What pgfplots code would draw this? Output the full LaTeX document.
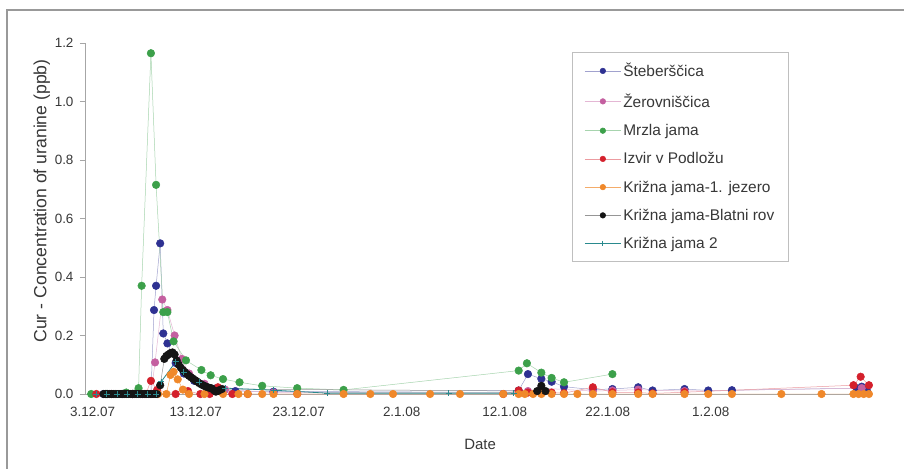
\documentclass[border=0pt]{standalone}
\usepackage{pgfplots}
\pgfplotsset{compat=1.18}
\usepackage{fontspec}
\setmainfont{Liberation Sans}
\definecolor{cblue}{HTML}{2E3192}
\definecolor{cpink}{HTML}{C45FA0}
\definecolor{cgreen}{HTML}{3CA04A}
\definecolor{cred}{HTML}{D4202C}
\definecolor{corange}{HTML}{F0882A}
\definecolor{cblack}{HTML}{151515}
\definecolor{cteal}{HTML}{2A8A8E}
\definecolor{txt}{HTML}{383838}
\begin{document}
\begin{tikzpicture}
\path[use as bounding box, fill=white] (0,0) rectangle (904bp,469bp);
\draw[gray!80, line width=1.2bp] (7bp,-5bp) -- (7bp,459bp) -- (910bp,459bp);
\begin{axis}[
  at={(85bp,75bp)}, anchor=south west,
  scale only axis, width=787bp, height=351bp,
  xmin=-0.6, xmax=75.8, ymin=0, ymax=1.2,
  axis x line=bottom, axis y line=left,
  axis line style={-, gray!70, line width=0.6bp},
  xtick={0,10,20,30,40,50,60},
  xticklabels={3.12.07,13.12.07,23.12.07,2.1.08,12.1.08,22.1.08,1.2.08},
  xtick style={draw=none},
  ytick={0,0.2,0.4,0.6,0.8,1.0,1.2},
  yticklabel style={/pgf/number format/.cd, fixed, fixed zerofill, precision=1, /tikz/.cd, xshift=-3bp},
  ytick style={gray!70, line width=0.6bp},
  tick align=outside, major tick length=5bp,
  /pgf/number format/assume math mode=true,
  ticklabel style={font=\fontsize{13.5}{15}\selectfont, text=txt},
  xticklabel style={xshift=1.5bp, yshift=-5bp},
  xlabel={Date}, ylabel={Cur - Concentration of uranine (ppb)},
  xlabel style={font=\fontsize{15}{17}\selectfont, text=txt, at={(axis description cs:0.502,-0.145)}, anchor=center},
  ylabel style={font=\fontsize{17.7}{20}\selectfont, text=txt, at={(axis description cs:-0.055,0.55)}, anchor=center},
  clip=false,
  legend cell align=left,
  legend style={at={(0.619,0.974)}, anchor=north west, draw=gray!50, line width=0.6bp,
    font=\fontsize{15.5}{18}\selectfont, text=txt, row sep=11.5bp, inner xsep=12bp, inner ysep=9bp},
  legend image code/.code={\draw[#1, mark size=2.8bp, mark repeat=2, mark phase=2] plot coordinates {(0bp,0bp) (18bp,0bp) (36bp,0bp)};},
  every axis plot/.append style={line width=0.5bp, mark size=3.8bp},
]
\addplot[color=cblue!45, mark=*, mark options={fill=cblue, draw=cblue}] coordinates {
(1.2,0)(2.0,0)(3.0,0)(4.0,0)(5.0,0)(5.8,0)(6.1,0.287)(6.3,0.37)(6.7,0.515)(7.0,0.207)(7.4,0.173)(8.2,0.106)(9.0,0.07)(10.0,0.045)(11.0,0.03)(12.0,0.018)(14.0,0.01)(17.7,0.008)(41.5,0.012)(42.4,0.068)(43.7,0.052)(44.7,0.042)(45.9,0.025)(48.7,0.015)(50.6,0.017)(53.1,0.023)(54.5,0.012)(57.6,0.017)(59.9,0.012)(62.2,0.013)(74.3,0.02)(74.8,0.025)(75.3,0.012)};
\addlegendentry{Šteberščica}
\addplot[color=cpink!45, mark=*, mark options={fill=cpink, draw=cpink}] coordinates {
(5.0,0)(5.8,0)(6.2,0.108)(6.9,0.323)(7.4,0.287)(8.1,0.2)(8.8,0.12)(9.5,0.07)(11,0.035)(13,0.015)(17.7,0.005)(41.5,0.005)(42.4,0.01)(43.7,0.02)(48.7,0.01)(50.6,0.012)(53.1,0.015)(57.6,0.01)(74.8,0.02)};
\addlegendentry{Žerovniščica}
\addplot[color=cgreen!45, mark=*, mark options={fill=cgreen, draw=cgreen}] coordinates {
(0,0)(1.5,0)(3.4,0.005)(4.6,0.02)(4.9,0.37)(5.8,1.165)(6.3,0.715)(7.0,0.28)(7.4,0.28)(8.0,0.18)(9.2,0.115)(10.7,0.082)(11.6,0.064)(12.8,0.051)(14.4,0.04)(16.6,0.028)(20.0,0.02)(24.5,0.014)(41.5,0.08)(42.3,0.105)(43.7,0.073)(44.7,0.055)(45.9,0.04)(50.6,0.068)};
\addlegendentry{Mrzla jama}
\addplot[color=cred!45, mark=*, mark options={fill=cred, draw=cred}] coordinates {
(0.5,0)(2,0)(4,0)(5.3,0)(5.8,0.045)(6.4,0.014)(8.2,0)(9.4,0.01)(10.6,0)(11.5,0)(12.3,0.023)(13.7,0)(15.2,0)(20,0)(40,0)(41.5,0.012)(42.4,0.005)(43.7,0.005)(44.7,0.005)(45.9,0.003)(48.7,0.023)(50.6,0.006)(53.1,0.005)(54.5,0.002)(57.6,0.006)(74.0,0.03)(74.7,0.059)(75.5,0.03)};
\addlegendentry{Izvir v Podložu}
\addplot[color=corange!70, mark=*, mark options={fill=corange, draw=corange}] coordinates {
(6.5,0)(7.3,0)(7.7,0.065)(8.0,0.076)(8.4,0.05)(8.9,0.015)(9.5,0)(11,0)(12.8,0)(14.3,0)(15.2,0)(16.6,0)(17.7,0)(20,0)(24.5,0)(27.1,0)(29.3,0)(32.9,0)(35.8,0)(40,0)(41.5,0)(42.1,0)(42.9,0)(43.7,0)(44.7,0)(45.9,0)(47.2,0)(48.7,0)(50.6,0)(53.1,0)(54.5,0)(57.6,0)(59.9,0)(62.2,0)(67.0,0)(70.9,0)(74.0,0)(74.5,0)(75.0,0)(75.5,0)};
\addlegendentry{Križna jama-1. jezero}
\addplot[color=cblack!45, mark=*, mark options={fill=cblack, draw=cblack}] coordinates {
(1.2,0)(1.4,0)(1.6,0)(1.8,0)(2.0,0)(2.2,0)(2.4,0)(2.6,0)(2.8,0)(3.0,0)(3.2,0)(3.4,0)(3.6,0)(3.8,0)(4.0,0)(4.2,0)(4.4,0)(4.6,0)(4.8,0)(5.0,0)(5.2,0)(5.4,0)(5.6,0)(5.8,0)(6.0,0)(6.2,0)(6.4,0)
(6.7,0.03)(7.1,0.12)(7.3,0.13)(7.5,0.135)(7.7,0.14)(7.9,0.142)(8.1,0.135)(8.3,0.115)(8.5,0.1)(8.7,0.09)(8.9,0.082)(9.1,0.075)(9.3,0.068)(9.5,0.062)(9.7,0.057)(9.9,0.052)(10.1,0.047)(10.3,0.042)(10.5,0.037)(10.7,0.033)(10.9,0.029)(11.1,0.026)(11.3,0.023)(11.5,0.021)(11.7,0.019)(11.9,0.013)(12.1,0.008)(12.3,0.01)(12.5,0.014)(12.7,0.017)
(43.3,0.01)(43.7,0.028)(44.1,0.01)};
\addlegendentry{Križna jama-Blatni rov}
\addplot[color=cteal, line width=0.8bp, mark=+, mark size=3bp, mark options={draw=cteal}] coordinates {
(0.5,0)(1.5,0)(2.5,0)(3.5,0)(4.5,0)(5.5,0)(6.3,0)(6.8,0.042)(8.2,0.11)(9.0,0.075)(10.5,0.04)(13,0.02)(17.7,0.013)(22.9,0.003)(34.7,0.003)(41.0,0.003)};
\addlegendentry{Križna jama 2}
\end{axis}
\end{tikzpicture}
\end{document}
